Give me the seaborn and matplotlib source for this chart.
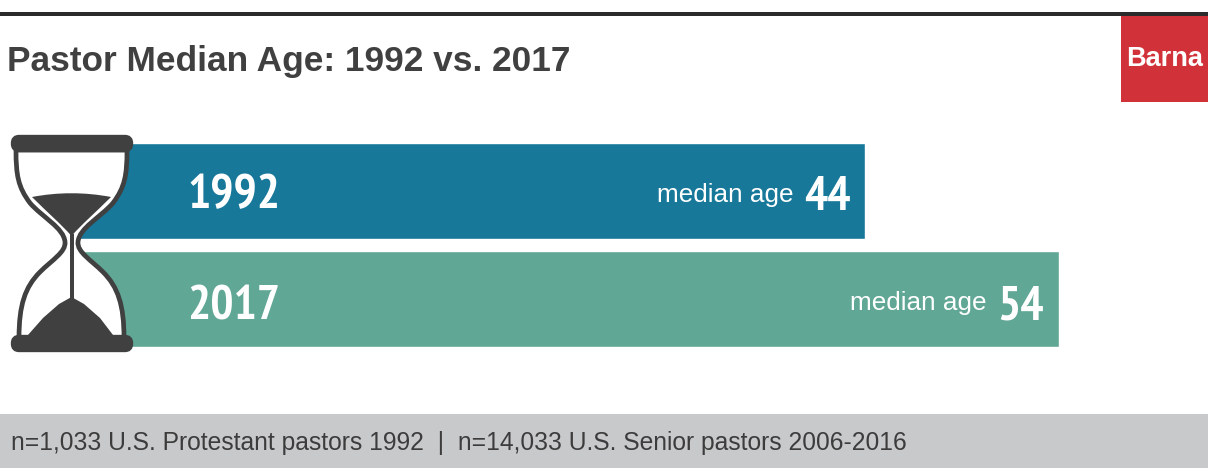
import matplotlib
matplotlib.use("Agg")
import matplotlib.pyplot as plt
import pandas as pd
import seaborn as sns
from matplotlib.patches import FancyBboxPatch, PathPatch, Rectangle
from matplotlib.path import Path

W, H = 1208, 469

# data
years = ["1992", "2017"]
median_age = [44, 54]
bar_colors = ["#17789a", "#60a795"]
title = "Pastor Median Age: 1992 vs. 2017"
footnote = "n=1,033 U.S. Protestant pastors 1992  |  n=14,033 U.S. Senior pastors 2006-2016"

sns.set_theme(style="white")
plt.rcParams["font.family"] = ["Liberation Sans", "DejaVu Sans"]
narrow = ["PT Sans Narrow", "Liberation Sans"]
DARK = "#404040"

df = pd.DataFrame({"year": years, "age": median_age})

fig = plt.figure(figsize=(W / 100, H / 100), dpi=100, facecolor="white")

# bars: zero sits at px 14, 19.35 px per year of age. axes starts at the hourglass centre
# so the left end of the bars stays hidden behind the glass
px_per_year = 19.35
x0 = 71
ax = fig.add_axes([x0 / W, 1 - 353 / H, (W - x0) / W, 216 / H])
sns.barplot(data=df, x="age", y="year", hue="year", palette=bar_colors,
            width=0.88, saturation=1, legend=False, ax=ax)
ax.set_xlim((x0 - 14) / px_per_year, (W - 14) / px_per_year)
ax.set_ylim(1.5, -0.5)
ax.axis("off")

# vertical nudges per row, pixels
year_dy = [-5, -9]
num_dy = [-7, -9]
for i, (y, v) in enumerate(zip(years, median_age)):
    ax.annotate(y, (0, i), xytext=(173, year_dy[i]), textcoords="offset pixels", color="white",
                fontsize=35, fontweight="bold", family=narrow, va="center", ha="left",
                annotation_clip=False)
    ax.annotate(str(v), (v, i), xytext=(-15, num_dy[i]), textcoords="offset pixels", color="white",
                fontsize=35, fontweight="bold", family=narrow, va="center", ha="right")
    ax.annotate("median age", (v, i), xytext=(-72, -4), textcoords="offset pixels",
                color="white", fontsize=18.8, va="center", ha="right")

# overlay in pixel coordinates for header, footer and the hourglass
ov = fig.add_axes([0, 0, 1, 1], facecolor="none")
ov.set_xlim(0, W)
ov.set_ylim(H, 0)
ov.axis("off")

ov.add_patch(Rectangle((0, 12), W, 4, color="#2b2b2b", lw=0))
ov.add_patch(Rectangle((1121, 16), W - 1121, 86, color="#d13239", lw=0))
ov.text(1164.5, 59, "Barna", color="white", fontsize=19.5, fontweight="bold",
        ha="center", va="center")
ov.text(7, 61, title, color=DARK, fontsize=25.35, fontweight="bold", ha="left", va="center")

ov.add_patch(Rectangle((0, 414), W, 54, color="#c8c9cb", lw=0))
ov.text(11, 443, footnote, color="#3c3c3c", fontsize=17.7, ha="left", va="center")

# hourglass
cx = 71.5


def mirror(pts):
    return [(2 * cx - x, y) for x, y in pts]


left = [(16, 150), (16, 175), (18, 187), (30, 203),
        (42, 217), (64, 228), (65, 242),
        (66, 252), (52, 260), (40, 272),
        (25, 287), (19, 305), (19, 338)]
right = mirror(left)[::-1]
verts = left + right + [left[0]]
codes = ([Path.MOVETO] + [Path.CURVE4] * 12 + [Path.LINETO] + [Path.CURVE4] * 12
         + [Path.CLOSEPOLY])
ov.add_patch(PathPatch(Path(verts, codes), facecolor="white", edgecolor=DARK, lw=3.4, zorder=3))

top_sand = [(32, 197), (58, 192), (85, 192), (111, 197),
            (96, 212), (82, 224), (71.5, 236),
            (61, 224), (47, 212), (32, 197), (32, 197)]
top_codes = [Path.MOVETO] + [Path.CURVE4] * 9 + [Path.CLOSEPOLY]
ov.add_patch(PathPatch(Path(top_sand, top_codes), facecolor=DARK, edgecolor="none", zorder=4))
ov.add_patch(Rectangle((69.5, 234), 4, 66, color=DARK, lw=0, zorder=4))
ov.add_patch(plt.Polygon([(71.5, 297), (84, 304), (100, 318), (113, 335), (28, 335), (43, 318),
                          (59, 304)], closed=True, color=DARK, lw=0, zorder=4))

for y0 in (135, 335):
    ov.add_patch(FancyBboxPatch((15, y0 + 4), 114, 9, boxstyle="round,pad=0,rounding_size=4",
                                mutation_aspect=1, facecolor=DARK, edgecolor=DARK, lw=6, zorder=5))

fig.savefig("out.png", dpi=100)
